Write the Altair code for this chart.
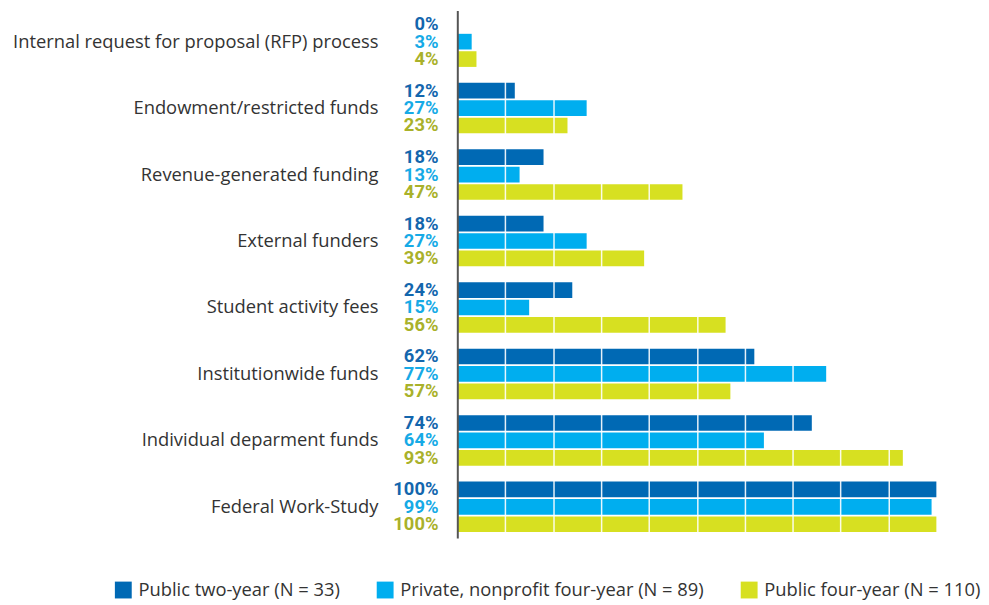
import altair as alt
import pandas as pd

categories = [
    "Internal request for proposal (RFP) process",
    "Endowment/restricted funds",
    "Revenue-generated funding",
    "External funders",
    "Student activity fees",
    "Institutionwide funds",
    "Individual deparment funds",
    "Federal Work-Study",
]
series = [
    "Public two-year (N = 33)",
    "Private, nonprofit four-year (N = 89)",
    "Public four-year (N = 110)",
]
public_two_year = [0, 12, 18, 18, 24, 62, 74, 100]
private_four_year = [3, 27, 13, 27, 15, 77, 64, 99]
public_four_year = [4, 23, 47, 39, 56, 57, 93, 100]

bar_colors = ["#0069b4", "#00aeef", "#d7e021"]
text_colors = ["#1366ad", "#16aae6", "#a9b12a"]

rows = []
for vals, s in zip([public_two_year, private_four_year, public_four_year], series):
    for c, v in zip(categories, vals):
        rows.append({"category": c, "series": s, "value": v, "label": f"{v}%"})
df = pd.DataFrame(rows)

y_enc = alt.Y(
    "category:N",
    sort=categories,
    title=None,
    scale=alt.Scale(paddingInner=0.24, paddingOuter=0.09),
    axis=alt.Axis(
        labelFont="Open Sans",
        labelFontSize=18.5,
        labelColor="#333333",
        labelPadding=80,
        ticks=False,
        domainColor="#555555",
        domainWidth=2,
        labelLimit=500,
        zindex=2,
    ),
)
yoff = alt.YOffset(
    "series:N", sort=series, scale=alt.Scale(paddingInner=0.1, paddingOuter=0)
)

bars = alt.Chart(df).mark_bar().encode(
    x=alt.X(
        "value:Q",
        scale=alt.Scale(domain=[0, 100], nice=False),
        title=None,
        axis=alt.Axis(
            labels=False,
            ticks=False,
            domain=False,
            grid=True,
            gridColor="white",
            gridWidth=1.5,
            gridOpacity=0.9,
            values=list(range(10, 100, 10)),
            zindex=1,
        ),
    ),
    y=y_enc,
    yOffset=yoff,
    color=alt.Color(
        "series:N",
        sort=series,
        scale=alt.Scale(domain=series, range=bar_colors),
        legend=alt.Legend(
            title=None,
            orient="none",
            direction="horizontal",
            legendX=-346,
            legendY=575,
            symbolType="square",
            symbolSize=289,
            symbolStrokeWidth=0,
            labelFont="Open Sans",
            labelFontSize=18.5,
            labelColor="#333333",
            labelOffset=6,
            columnPadding=36,
            labelLimit=500,
        ),
    ),
)

texts = alt.Chart(df).mark_text(
    align="right",
    baseline="middle",
    dx=-19,
    font="Roboto",
    fontWeight="bold",
    fontSize=18.5,
).encode(
    x=alt.datum(0),
    y=alt.Y("category:N", sort=categories),
    yOffset=yoff,
    text="label:N",
    color=alt.Color(
        "series:N", sort=series, scale=alt.Scale(domain=series, range=text_colors), legend=None
    ),
)

chart = (
    alt.layer(bars, texts)
    .resolve_scale(color="independent")
    .properties(
        width=483,
        height=532,
        padding={"left": 4, "top": 0, "right": 0, "bottom": 0},
    )
    .configure_view(strokeWidth=0, stroke="transparent")
)

chart.save("out.html", embed_options={"renderer": "svg", "actions": False})
